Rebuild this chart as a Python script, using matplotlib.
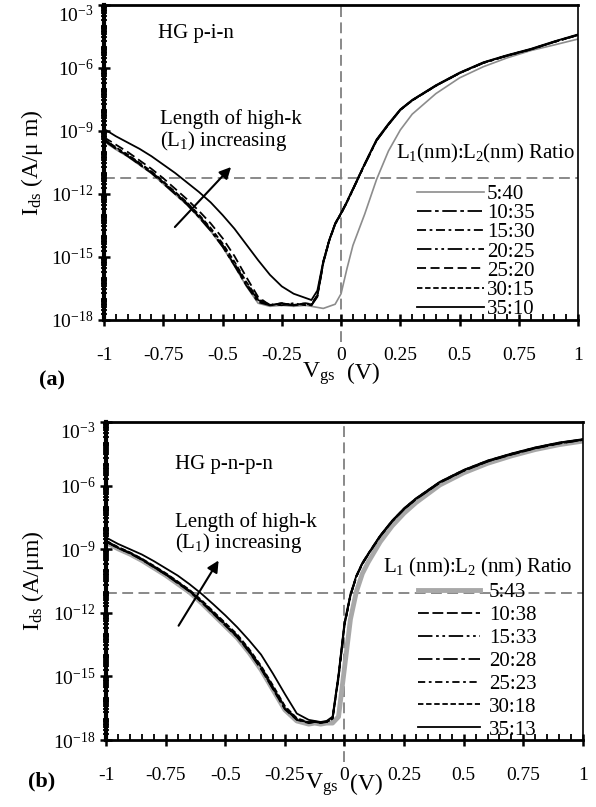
import numpy as np
import matplotlib
matplotlib.use('Agg')
import matplotlib.pyplot as plt
from matplotlib.ticker import LogLocator, NullFormatter, MultipleLocator
from matplotlib.transforms import blended_transform_factory

plt.rcParams['font.family'] = ['Liberation Serif', 'DejaVu Serif']
plt.rcParams['mathtext.fontset'] = 'custom'
plt.rcParams['mathtext.rm'] = 'Liberation Serif'
plt.rcParams['mathtext.it'] = 'Liberation Serif:italic'
plt.rcParams['mathtext.bf'] = 'Liberation Serif:bold'

# gate voltage (V) shared by all curves
vgs = [-1.0, -0.95, -0.9, -0.85, -0.8, -0.75, -0.7, -0.65, -0.6, -0.55, -0.5, -0.45,
       -0.4, -0.35, -0.3, -0.25, -0.2, -0.15, -0.125, -0.1, -0.075, -0.05, -0.025,
       0.0, 0.025, 0.05, 0.075, 0.1, 0.15, 0.2, 0.25, 0.3, 0.4, 0.5, 0.6, 0.7, 0.8, 0.9, 1.0]

# (a) HG p-i-n : log10(Ids)
a_labels = ['5:40', '10:35', '15:30', '20:25', '25:20', '30:15', '35:10']
a_5_40 = [-9.5, -9.88, -10.22, -10.62, -11.02, -11.52, -12.02, -12.52, -13.12, -13.77, -14.52,
          -15.42, -16.38, -17.2, -17.35, -17.3, -17.35, -17.3, -17.35, -17.4, -17.45, -17.35,
          -17.25, -16.75, -15.55, -14.45, -13.7, -12.95, -11.3, -9.95, -8.95, -8.2, -7.22,
          -6.47, -5.94, -5.52, -5.17, -4.9, -4.62]
a_10_35 = [-9.45, -9.85, -10.2, -10.6, -11.0, -11.5, -12.0, -12.5, -13.1, -13.75, -14.5,
           -15.4, -16.35, -17.15, -17.3, -17.25, -17.3, -17.25, -17.3, -16.9, -15.3, -14.25,
           -13.45, -12.95, -12.4, -11.8, -11.2, -10.6, -9.45, -8.7, -8.0, -7.55, -6.85,
           -6.25, -5.76, -5.42, -5.12, -4.76, -4.43]
a_15_30 = [-9.42, -9.83, -10.18, -10.58, -10.98, -11.47, -11.97, -12.47, -13.07, -13.72, -14.47,
           -15.37, -16.3, -17.1, -17.25, -17.3, -17.2, -17.3, -17.25, -16.85, -15.25, -14.2,
           -13.42, -12.92, -12.38, -11.78, -11.18, -10.58, -9.44, -8.69, -7.99, -7.54, -6.84,
           -6.24, -5.75, -5.41, -5.11, -4.75, -4.42]
a_20_25 = [-9.4, -9.8, -10.15, -10.55, -10.95, -11.44, -11.94, -12.44, -13.03, -13.68, -14.42,
           -15.3, -16.25, -17.05, -17.3, -17.2, -17.3, -17.2, -17.3, -16.85, -15.28, -14.22,
           -13.43, -12.93, -12.39, -11.79, -11.19, -10.59, -9.45, -8.7, -8.0, -7.55, -6.85,
           -6.25, -5.76, -5.42, -5.12, -4.76, -4.43]
a_25_20 = [-9.3, -9.65, -10.0, -10.4, -10.8, -11.25, -11.75, -12.25, -12.8, -13.4, -14.1,
           -14.95, -15.95, -16.9, -17.3, -17.2, -17.3, -17.2, -17.25, -16.85, -15.25, -14.22,
           -13.43, -12.93, -12.38, -11.78, -11.18, -10.58, -9.43, -8.68, -7.99, -7.54, -6.84,
           -6.24, -5.75, -5.41, -5.11, -4.75, -4.42]
a_30_15 = [-9.38, -9.78, -10.12, -10.52, -10.92, -11.4, -11.9, -12.4, -12.98, -13.62, -14.35,
           -15.22, -16.18, -17.0, -17.28, -17.22, -17.28, -17.22, -17.28, -16.8, -15.22, -14.2,
           -13.41, -12.91, -12.37, -11.77, -11.17, -10.57, -9.43, -8.68, -7.99, -7.54, -6.84,
           -6.24, -5.75, -5.41, -5.11, -4.75, -4.42]
a_35_10 = [-8.9, -9.25, -9.55, -9.85, -10.2, -10.6, -11.0, -11.45, -11.9, -12.4, -13.0,
           -13.65, -14.4, -15.15, -15.85, -16.4, -16.75, -16.95, -17.05, -16.6, -15.2, -14.2,
           -13.4, -12.9, -12.35, -11.75, -11.15, -10.55, -9.4, -8.65, -7.97, -7.52, -6.82,
           -6.22, -5.73, -5.39, -5.09, -4.73, -4.4]
a_series = [a_5_40, a_10_35, a_15_30, a_20_25, a_25_20, a_30_15, a_35_10]

# (b) HG p-n-p-n
b_labels = ['5:43', '10:38', '15:33', '20:28', '25:23', '30:18', '35:13']
b_5_43 = [-8.68, -8.98, -9.23, -9.53, -9.88, -10.23, -10.63, -11.03, -11.53, -12.08, -12.63,
          -13.18, -13.88, -14.68, -15.63, -16.58, -17.1, -17.25, -17.2, -17.25, -17.2, -17.2,
          -16.9, -14.6, -12.3, -11.0, -10.15, -9.6, -8.65, -7.9, -7.3, -6.8, -5.97,
          -5.4, -4.95, -4.6, -4.3, -4.07, -3.9]
b_10_38 = [-8.65, -8.95, -9.2, -9.5, -9.85, -10.2, -10.6, -11.0, -11.5, -12.05, -12.6,
           -13.15, -13.85, -14.65, -15.6, -16.55, -17.05, -17.2, -17.15, -17.2, -17.15, -17.0,
           -15.1, -12.6, -11.2, -10.3, -9.7, -9.25, -8.4, -7.7, -7.12, -6.65, -5.87,
           -5.31, -4.87, -4.54, -4.25, -4.02, -3.85]
b_15_33 = [-8.64, -8.94, -9.19, -9.49, -9.84, -10.19, -10.58, -10.98, -11.48, -12.03, -12.58,
           -13.13, -13.83, -14.62, -15.57, -16.52, -17.03, -17.18, -17.15, -17.18, -17.15, -17.0,
           -15.05, -12.58, -11.19, -10.29, -9.69, -9.24, -8.39, -7.69, -7.11, -6.64, -5.86,
           -5.3, -4.86, -4.53, -4.24, -4.01, -3.84]
b_20_28 = [-8.63, -8.93, -9.18, -9.48, -9.83, -10.18, -10.57, -10.97, -11.46, -12.0, -12.55,
           -13.1, -13.8, -14.6, -15.55, -16.5, -17.02, -17.18, -17.14, -17.18, -17.14, -16.98,
           -15.0, -12.56, -11.18, -10.28, -9.68, -9.23, -8.38, -7.68, -7.1, -6.63, -5.85,
           -5.29, -4.85, -4.52, -4.23, -4.0, -3.84]
b_25_23 = [-8.62, -8.92, -9.17, -9.47, -9.81, -10.16, -10.55, -10.95, -11.44, -11.98, -12.52,
           -13.07, -13.76, -14.56, -15.5, -16.45, -17.0, -17.17, -17.14, -17.17, -17.14, -16.98,
           -14.98, -12.55, -11.17, -10.27, -9.67, -9.22, -8.37, -7.67, -7.09, -6.62, -5.84,
           -5.28, -4.84, -4.51, -4.22, -3.99, -3.83]
b_30_18 = [-8.6, -8.9, -9.15, -9.45, -9.78, -10.13, -10.52, -10.92, -11.4, -11.94, -12.48,
           -13.02, -13.71, -14.5, -15.43, -16.4, -16.97, -17.16, -17.13, -17.16, -17.13, -16.96,
           -14.95, -12.53, -11.16, -10.26, -9.66, -9.21, -8.36, -7.66, -7.08, -6.61, -5.83,
           -5.27, -4.83, -4.5, -4.21, -3.98, -3.82]
b_35_13 = [-8.45, -8.75, -9.0, -9.25, -9.56, -9.9, -10.24, -10.65, -11.1, -11.6, -12.12,
           -12.68, -13.3, -13.97, -14.87, -15.83, -16.75, -17.05, -17.1, -17.15, -17.1, -16.9,
           -14.9, -12.45, -11.12, -10.24, -9.64, -9.2, -8.35, -7.65, -7.07, -6.6, -5.82,
           -5.26, -4.82, -4.49, -4.2, -3.97, -3.81]
b_series = [b_5_43, b_10_38, b_15_33, b_20_28, b_25_23, b_30_18, b_35_13]

xticks = [-1, -0.75, -0.5, -0.25, 0, 0.25, 0.5, 0.75, 1]
xticklabels = ['-1', '-0.75', '-0.5', '-0.25', '0', '0.25', '0.5', '0.75', '1']
yticks = [1e-18, 1e-15, 1e-12, 1e-9, 1e-6, 1e-3]
yticklabels = ['$10^{-18}$', '$10^{-15}$', '$10^{-12}$', '$10^{-9}$', '$10^{-6}$', '$10^{-3}$']

a_styles = [dict(color='#8c8c8c', lw=1.2, ls='-'),
            dict(color='black', lw=1.3, ls=(0, (8, 2, 2, 2))),
            dict(color='black', lw=1.3, ls=(0, (5, 2, 1.5, 2))),
            dict(color='black', lw=1.3, ls=(0, (8, 2, 1.5, 2, 1.5, 2))),
            dict(color='black', lw=1.3, ls=(0, (5, 2.5))),
            dict(color='black', lw=1.3, ls=(0, (3, 1.5))),
            dict(color='black', lw=1.3, ls='-')]
b_styles = [dict(color='#a8a8a8', lw=3.5, ls='-'),
            dict(color='black', lw=1.3, ls=(0, (6, 2))),
            dict(color='black', lw=1.3, ls=(0, (8, 2, 1.5, 2, 1.5, 2))),
            dict(color='black', lw=1.3, ls=(0, (8, 2, 2, 2))),
            dict(color='black', lw=1.3, ls=(0, (4, 2, 1.5, 2))),
            dict(color='black', lw=1.3, ls=(0, (3, 1.5))),
            dict(color='black', lw=1.3, ls='-')]


def setup_axis(ax, hline, ylab, xlab_y):
    ax.set_yscale('log')
    ax.set_xlim(-1, 1)
    ax.set_ylim(1e-18, 1e-3)
    ax.axhline(hline, color='#808080', lw=1.3, ls=(0, (6, 3)), zorder=1)
    trans = blended_transform_factory(ax.transData, ax.transAxes)
    ax.plot([0, 0], [-0.07, 1], transform=trans, color='#808080', lw=1.3,
            ls=(0, (6, 3)), clip_on=False, zorder=1)
    ax.set_xticks(xticks)
    ax.set_xticklabels(xticklabels)
    ax.xaxis.set_minor_locator(MultipleLocator(0.05))
    ax.set_yticks(yticks)
    ax.set_yticklabels(yticklabels)
    ax.get_yticklabels()[-1].set_va('top')
    ax.yaxis.set_minor_locator(LogLocator(base=10, subs=np.arange(1, 10), numticks=200))
    ax.yaxis.set_minor_formatter(NullFormatter())
    ax.tick_params(axis='x', which='major', direction='inout', length=9, width=1.8,
                   pad=15, labelsize=14)
    ax.tick_params(axis='x', which='minor', direction='in', length=4, width=1.3)
    ax.tick_params(axis='y', which='major', direction='inout', length=9, width=1.8,
                   pad=3, labelsize=14)
    ax.tick_params(axis='y', which='minor', direction='inout', length=5, width=1.3)
    ax.spines['left'].set_linewidth(3)
    ax.spines['bottom'].set_linewidth(2)
    ax.spines['top'].set_linewidth(2)
    ax.spines['right'].set_linewidth(1.2)
    ax.set_ylabel(ylab, fontsize=17)
    ax.yaxis.set_label_coords(-0.125, 0.5)
    ax.text(-0.025, xlab_y, 'V$_{\\mathrm{gs}}$', transform=trans, ha='right',
            va='center', fontsize=17)
    ax.text(0.025, xlab_y, '(V)', transform=trans, ha='left', va='center', fontsize=17)


fig = plt.figure(figsize=(5.96, 8.07), dpi=100)
ax1 = fig.add_axes([0.1745, 0.6035, 0.7955, 0.3903])
ax2 = fig.add_axes([0.178, 0.083, 0.800, 0.3941])

x = np.array(vgs)
for vals, lab, st in zip(a_series, a_labels, a_styles):
    ax1.plot(x, 10.0 ** np.array(vals), label=lab, zorder=3 if st['color'] == 'black' else 2, **st)
for vals, lab, st in zip(b_series, b_labels, b_styles):
    ax2.plot(x, 10.0 ** np.array(vals), label=lab, zorder=3 if st['color'] == 'black' else 2, **st)

setup_axis(ax1, 10 ** -11.25, 'I$_{\\mathrm{ds}}$ (A/\u03bc m)', -0.17)
setup_axis(ax2, 10 ** -11.08, 'I$_{\\mathrm{ds}}$ (A/\u03bcm)', -0.14)

# panel (a) annotations
ax1.text(0.114, 0.911, 'HG p-i-n', transform=ax1.transAxes, fontsize=15, va='center')
ax1.text(0.118, 0.60, 'Length of high-k\n(L$_1$) increasing', transform=ax1.transAxes,
         fontsize=15, va='center', linespacing=0.95)
ax1.annotate('', xy=(-0.456, 10 ** -10.62), xytext=(-0.709, 10 ** -13.67),
             arrowprops=dict(arrowstyle='-|>', color='black', lw=1.5, mutation_scale=17))
ax1.text(0.994, 0.53, 'L$_1$(nm):L$_2$(nm) Ratio', transform=ax1.transAxes,
         fontsize=15, ha='right', va='center')
ax1.legend(loc='upper left', bbox_to_anchor=(0.66, 0.43), frameon=False, fontsize=15,
           handlelength=3.2, handletextpad=0.15, labelspacing=-0.02, borderpad=0,
           borderaxespad=0)

# panel (b) annotations
ax2.text(0.145, 0.865, 'HG p-n-p-n', transform=ax2.transAxes, fontsize=15, va='center')
ax2.text(0.145, 0.648, 'Length of high-k\n(L$_1$) increasing', transform=ax2.transAxes,
         fontsize=15, va='center', linespacing=0.95)
ax2.annotate('', xy=(-0.522, 10 ** -9.42), xytext=(-0.702, 10 ** -12.72),
             arrowprops=dict(arrowstyle='-|>', color='black', lw=1.5, mutation_scale=17))
ax2.text(0.979, 0.544, 'L$_1$ (nm):L$_2$ (nm) Ratio', transform=ax2.transAxes,
         fontsize=15, ha='right', va='center')
ax2.legend(loc='upper left', bbox_to_anchor=(0.654, 0.495), frameon=False, fontsize=15,
           handlelength=3.0, handletextpad=0.4, labelspacing=0.16, borderpad=0,
           borderaxespad=0)

fig.text(0.087, 0.529, '(a)', fontsize=16, fontweight='bold', ha='center', va='center')
fig.text(0.070, 0.031, '(b)', fontsize=16, fontweight='bold', ha='center', va='center')

fig.savefig('out.png', dpi=100)
